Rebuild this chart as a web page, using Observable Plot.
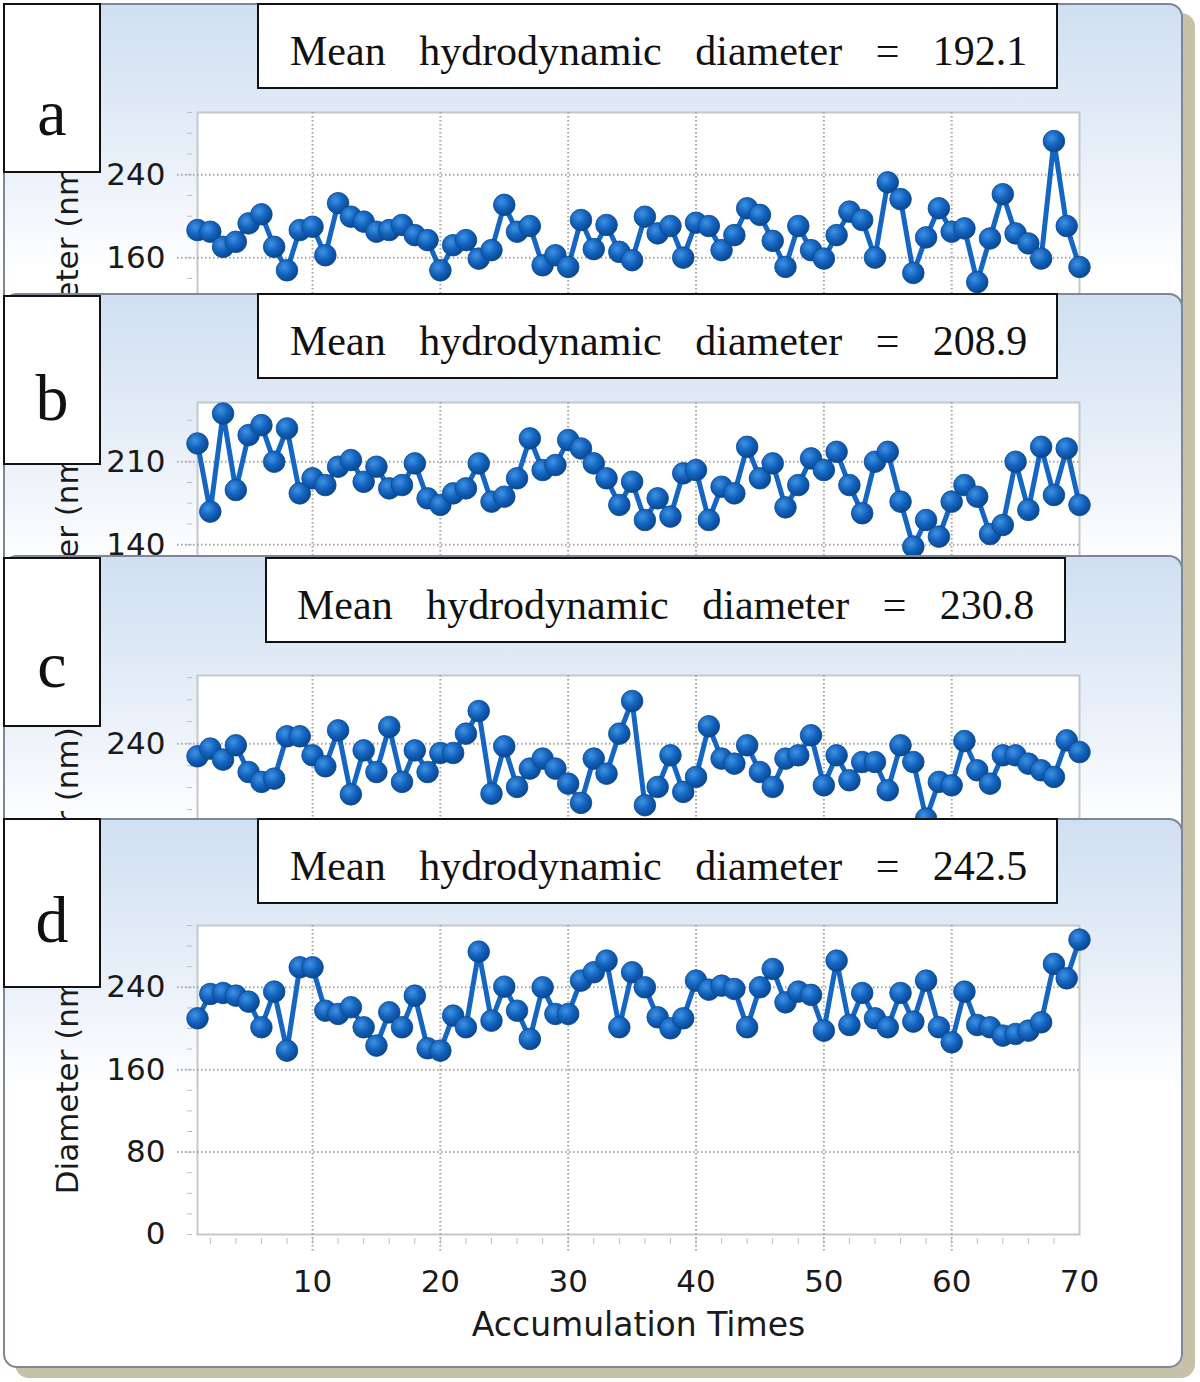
<!DOCTYPE html>
<html><head><meta charset="utf-8">
<script src="https://cdn.jsdelivr.net/npm/d3@7"></script>
<script src="https://cdn.jsdelivr.net/npm/@observablehq/plot@0.6"></script>
<style>
html,body{margin:0;padding:0;background:#fff;}
#fig{position:relative;width:1200px;height:1382px;overflow:hidden;background:#fff;}
.frame{position:absolute;box-sizing:border-box;border:2px solid #7d8894;border-radius:14px;
  background:linear-gradient(to bottom,#d0dff1 0px,#e6eef8 140px,#ffffff 270px);box-shadow:12px 10px 0 #c7c1aa;}
.clip{position:absolute;left:0;width:1100px;overflow:hidden;}
.letter{position:absolute;box-sizing:border-box;border:2px solid #111;background:#fff;
  font-family:"Liberation Serif","DejaVu Serif",serif;font-size:66px;color:#111;}
.title{position:absolute;box-sizing:border-box;border:2px solid #111;background:#fff;
  font-family:"Liberation Serif","DejaVu Serif",serif;font-size:42px;word-spacing:23px;white-space:pre;color:#111;}
.title span,.letter span{position:absolute;line-height:1;}
.letter span{left:0;width:100%;text-align:center;}
svg.panelsvg{position:absolute;left:0;top:0;}
</style></head><body><div id="fig"></div>
<script>
// ---- data ----
const accumulationTimes = Array.from({length: 70}, (_, i) => i + 1);
const letters = ["a", "b", "c", "d"];
const meanDiameters = ["192.1", "208.9", "230.8", "242.5"];
const xTickLabels = [10, 20, 30, 40, 50, 60, 70];
const yTicksA = [0, 80, 160, 240];
const yTicksB = [0, 70, 140, 210];
const yTicksC = [0, 80, 160, 240];
const yTicksD = [0, 80, 160, 240];

const diameterA = [186.6,185,170.4,175.3,193,201.8,170.4,147.8,186.6,189.8,
  162.3,212.5,199.5,194.7,185,186.6,191.5,181.7,176.9,147.8,
  172,176.9,159,167.2,210.9,185,190.5,152.6,162.3,151,
  196.3,168.2,191.5,165.6,157.5,199.5,183.4,190.5,160,193.7,
  190.5,167.2,181.7,207.6,201.2,176.2,151,190.5,167.2,159.1,
  181.7,204.4,196.3,160,232.6,216.4,145.2,179.5,207.6,185,
  188.2,136.4,178.5,221.2,183.4,173.7,159.1,272.4,190.5,151];
const diameterB = [225.4,167.9,250.7,186.1,232.5,240.9,210,238.1,183.3,196,
  190.3,205.8,211.4,193.1,205.8,187.5,190.3,208.6,179.1,173.5,
  183.3,187.5,208.6,176.3,180.5,196,229.7,203,207.2,228.3,
  221.2,208.6,196,173.5,193.1,160.8,179.1,163.7,200.2,203,
  160.8,188.9,183.3,222.6,196,208.6,171.5,190.3,212.8,203,
  218.4,190.3,166.5,210,218.4,176.3,138.4,160.8,146.8,176.3,
  190.3,180.5,149,156.6,210,169.3,222.6,181.9,221.2,173.5];
const diameterC = [228.5,235.5,225.5,238.5,214.2,205.2,208.2,246.7,246.7,229.4,
  219.4,252.1,193.9,233.9,214.2,255.2,205.2,233.9,214.2,231.5,
  231.5,249.1,269.7,194.5,237.6,200.6,217.3,226.4,217.3,203.6,
  186.1,226.4,212.7,249.1,278.8,184,200.6,229.4,196.1,209.7,
  255.8,226.4,221.8,238.5,214.2,200.6,226.4,229.4,247.6,202.1,
  229.4,206.7,223.3,223.3,197.6,238.5,223.3,171.8,205.2,202.1,
  242.4,215.8,203.6,229.4,229.4,221.8,215.8,209.7,243,232.4];
const diameterD = [209.9,233.5,234.5,231.9,226.1,201.2,235.8,178.5,259.4,259.4,
  217.3,214.1,220.6,201.2,183.4,215.7,201.2,231.9,180.8,178.5,
  212.5,201.2,274.6,207.6,240.6,217.3,189.8,240,214.1,214.1,
  246.5,254.6,265.9,201.2,254.6,240,210.9,200.2,209.9,246.5,
  237.7,241.6,238.4,201.2,240,257.8,225.4,235.8,232.6,197.9,
  265.9,203.4,234.5,209.9,201.2,234.5,206.7,246.5,201.2,186.6,
  235.8,203.4,201.2,193.1,194.7,197.9,206,262.7,248.7,286.3];

// ---- layout of the four stacked screenshots ----
const panels = [
  {values: diameterA, yTicks: yTicksA, yMax: 300, minorStep: 20, top: 3, bottom: 293, plotTop: 112, plotH: 311,
   letterTop: 3, letterBase: 130, titleTop: 3, titleLeft: 257, textLeft: 31},
  {values: diameterB, yTicks: yTicksB, yMax: 260, minorStep: 17.5, top: 293, bottom: 555, plotTop: 402, plotH: 308,
   letterTop: 295, letterBase: 123, titleTop: 293, titleLeft: 257, textLeft: 31},
  {values: diameterC, yTicks: yTicksC, yMax: 302, minorStep: 20, top: 555, bottom: 818, plotTop: 675, plotH: 332,
   letterTop: 557, letterBase: 128, titleTop: 557, titleLeft: 265, textLeft: 30},
  {values: diameterD, yTicks: yTicksD, yMax: 300, minorStep: 20, top: 818, bottom: 1382, plotTop: 925, plotH: 309,
   letterTop: 818, letterBase: 122, titleTop: 818, titleLeft: 257, textLeft: 31}
];

const fig = document.getElementById("fig");
const minorX = d3.range(2, 70, 2);

panels.forEach((p, k) => {
  const last = k === panels.length - 1;
  const frame = document.createElement("div");
  frame.className = "frame";
  Object.assign(frame.style, {left: "3px", top: p.top + "px", width: "1180px", height: "550px"});
  fig.appendChild(frame);

  const data = accumulationTimes.map((t, i) => ({t, d: p.values[i]}));
  const mt = p.plotTop - p.top;
  const mb = 134;
  const minorY = d3.range(0, p.yMax + 0.01, p.minorStep);
  // only tick labels that are not covered by the next screenshot
  const visibleTicks = p.yTicks.filter(v => p.plotTop + (p.yMax - v) / p.yMax * p.plotH < p.bottom - 8);
  const gridStyle = {stroke: "#a4a4a4", strokeWidth: 2, strokeDasharray: "1.5,2.5"};
  const marks = [
    Plot.frame({fill: "white", stroke: "#c3c8ce", strokeWidth: 2}),
    Plot.ruleX(xTickLabels.slice(0, -1), {...gridStyle, insetBottom: -18}),
    Plot.ruleY(p.yTicks.filter(v => v > 0), {...gridStyle, insetLeft: -20}),
    Plot.axisY({ticks: minorY, tickSize: 5, tickFormat: () => "", dx: -5, stroke: "#bdbdbd", label: null}),
    Plot.axisY({ticks: visibleTicks, tickSize: 0, tickPadding: 32, fontSize: 31, fill: "#1a1a1a", label: null}),
    Plot.axisX({ticks: minorX, tickSize: 6, tickFormat: () => "", dy: 4, stroke: "#bdbdbd", label: null}),
    Plot.text(["Diameter (nm)"], {frameAnchor: "left", dx: -129, rotate: -90, fontSize: 31, lineAnchor: "middle", textAnchor: "middle", fill: "#1a1a1a"}),
    Plot.line(data, {x: "t", y: "d", stroke: "#1466c2", strokeWidth: 5}),
    Plot.dot(data, {x: "t", y: "d", r: 10.8, fill: `url(#ball${k})`, stroke: "#0b4a90", strokeWidth: 0.8})
  ];
  if (last) {
    marks.push(
      Plot.axisX({ticks: xTickLabels, tickSize: 0, tickPadding: 35, fontSize: 31, fill: "#1a1a1a", label: null}),
      Plot.text(["Accumulation Times"], {frameAnchor: "bottom", dy: 91, fontSize: 33, lineAnchor: "middle", fill: "#1a1a1a"})
    );
  }
  const svg = Plot.plot({
    width: 1100, height: mt + p.plotH + mb,
    marginLeft: 197, marginRight: 21, marginTop: mt, marginBottom: mb,
    style: {background: "transparent", overflow: "visible", fontFamily: "DejaVu Sans, Verdana, sans-serif", color: "#1a1a1a"},
    x: {domain: [1, 70], axis: null},
    y: {domain: [0, p.yMax], axis: null},
    marks
  });
  const defs = d3.select(svg).insert("defs", ":first-child");
  const g = defs.append("radialGradient").attr("id", `ball${k}`).attr("cx", "38%").attr("cy", "35%").attr("r", "65%");
  g.append("stop").attr("offset", "0%").attr("stop-color", "#3f92e2");
  g.append("stop").attr("offset", "55%").attr("stop-color", "#1363bf");
  g.append("stop").attr("offset", "100%").attr("stop-color", "#0a4890");
  svg.classList.add("panelsvg");

  const clip = document.createElement("div");
  clip.className = "clip";
  clip.style.top = p.top + "px";
  clip.style.height = (Math.min(p.bottom, 1370) - p.top) + "px";
  clip.appendChild(svg);
  fig.appendChild(clip);

  const lb = document.createElement("div");
  lb.className = "letter";
  Object.assign(lb.style, {left: "3px", top: p.letterTop + "px", width: "98px", height: "170px"});
  const ls = document.createElement("span");
  ls.textContent = letters[k];
  ls.style.top = (p.letterBase - 0.8375 * 66) + "px";
  lb.appendChild(ls);
  fig.appendChild(lb);

  const tb = document.createElement("div");
  tb.className = "title";
  Object.assign(tb.style, {left: p.titleLeft + "px", top: p.titleTop + "px", width: "801px", height: "86px"});
  const ts = document.createElement("span");
  ts.textContent = "Mean hydrodynamic diameter = " + meanDiameters[k];
  ts.style.left = p.textLeft + "px";
  ts.style.top = (62 - 0.8375 * 42 - 2) + "px";
  tb.appendChild(ts);
  fig.appendChild(tb);
});
</script></body></html>
